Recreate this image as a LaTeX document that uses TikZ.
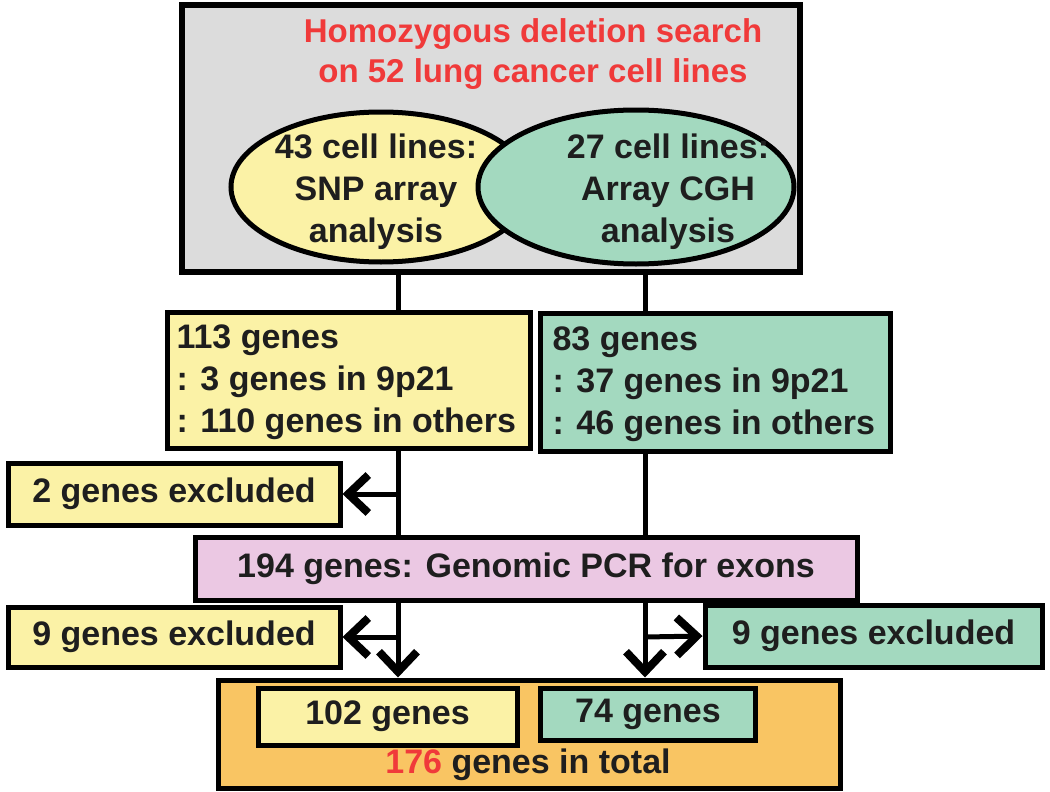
\documentclass[tikz,border=0pt]{standalone}
\usepackage{fontspec}
\setmainfont{Liberation Sans}
\usetikzlibrary{arrows.meta}
\definecolor{yfill}{HTML}{FBF2A6}
\definecolor{gfill}{HTML}{A3D9BF}
\definecolor{grayfill}{HTML}{DCDCDC}
\definecolor{pfill}{HTML}{EBC8E3}
\definecolor{ofill}{HTML}{F9C563}
\definecolor{redtxt}{HTML}{F03A3A}
\definecolor{ink}{HTML}{1E1E1E}
\tikzset{
  every node/.style={font=\bfseries\fontsize{34}{42}\selectfont, text=ink},
  box/.style={draw=black, line width=5pt, rectangle, inner sep=0pt},
  ell/.style={draw=black, line width=5pt},
  conn/.style={draw=black, line width=5pt},
  arr/.style={conn, -{Straight Barb[length=20pt,width=38pt,line width=8pt]}},
}
\begin{document}
\begin{tikzpicture}[x=1pt,y=-1pt]
\useasboundingbox (0,0) rectangle (1050,792);
% top box
\node[box, line width=6pt, fill=grayfill, minimum width=618pt, minimum height=267pt] (top) at (491,138.5) {};
\node[align=center, text=redtxt, font=\bfseries\fontsize{33}{40}\selectfont] (title) at (533,54) {Homozygous deletion search\\on 52 lung cancer cell lines};
% ellipses
\draw[ell, fill=yfill] (381,187) ellipse [x radius=150, y radius=75];
\draw[ell, fill=gfill] (636,187) ellipse [x radius=158, y radius=77];
\node[align=center] (snp) at (376,192) {43 cell lines:\\SNP array\\analysis};
\node[align=center] (cgh) at (668,192) {27 cell lines:\\Array CGH\\analysis};
% gene boxes
\node[box, fill=yfill, minimum width=363pt, minimum height=136pt] (b113) at (348.5,380) {};
\node[anchor=west, align=left] (t113) at (173,382) {113 genes\\: 3 genes in 9p21\\: 110 genes in others};
\node[box, fill=gfill, minimum width=350pt, minimum height=138pt] (b83) at (715,382) {};
\node[anchor=west, align=left] (t83) at (549,384) {83 genes\\: 37 genes in 9p21\\: 46 genes in others};
% connectors from top
\coordinate (c1) at (398,0);
\coordinate (c2) at (645,0);
\draw[conn] (top.south -| c1) -- (b113.north -| c1);
\draw[conn] (top.south -| c2) -- (b83.north -| c2);
% excluded 1
\node[box, fill=yfill, minimum width=332pt, minimum height=62pt] (ex1) at (174,494) {2 genes excluded};
% pink
\node[box, fill=pfill, minimum width=662pt, minimum height=63pt] (pcr) at (526,568.5) {194 genes: Genomic PCR for exons};
\draw[conn] (b113.south -| c1) -- (pcr.north -| c1);
\draw[conn] (b83.south -| c2) -- (pcr.north -| c2);
\coordinate (j1) at (398,494);
\draw[arr] (j1) -- (ex1.east);
% excluded 2,3
\node[box, fill=yfill, minimum width=332pt, minimum height=60pt] (ex2) at (174,637) {9 genes excluded};
\node[box, fill=gfill, minimum width=337pt, minimum height=62pt] (ex3) at (873.5,636) {9 genes excluded};
% orange total
\node[box, fill=ofill, minimum width=622pt, minimum height=108pt] (tot) at (529,734) {};
\node[box, fill=yfill, minimum width=259pt, minimum height=57pt] (g102) at (387.5,716.5) {102 genes};
\node[box, fill=gfill, minimum width=215pt, minimum height=52pt] (g74) at (648,714) {74 genes};
\node (ttl) at (528,765) {\textcolor{redtxt}{176} genes in total};
\coordinate (j2) at (398,637);
\coordinate (j3) at (645,637);
\draw[arr] (pcr.south -| c1) -- (tot.north -| c1);
\draw[arr] (pcr.south -| c2) -- (tot.north -| c2);
\draw[arr] (j2) -- (ex2.east);
\draw[arr] (j3) -- (ex3.west);
\end{tikzpicture}
\end{document}
